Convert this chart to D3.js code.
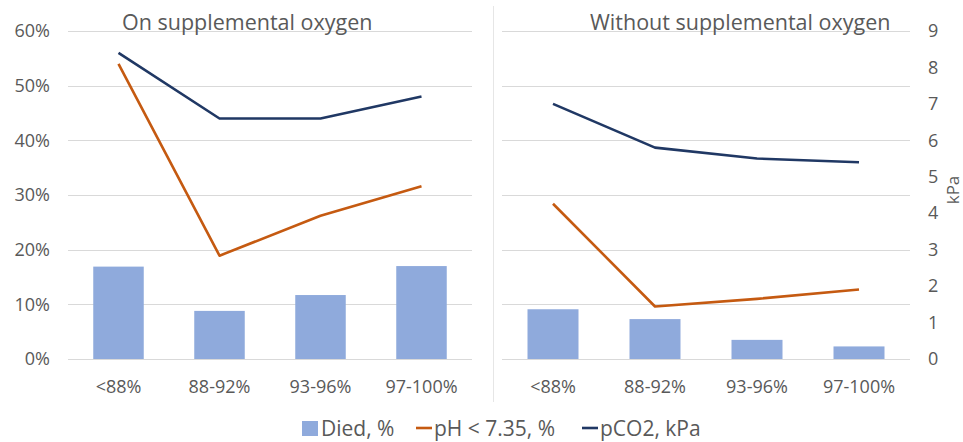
<!DOCTYPE html>
<html>
<head>
    <title>Supplemental oxygen</title>
    <script src="https://d3js.org/d3.v7.min.js"></script>
    <style>
        body { margin: 0; background: #fff; font-family: "Open Sans", sans-serif; }
        text { fill: #595959; }
    </style>
</head>
<body>
<div class="chart"></div>

<script>
    const categories = ["<88%", "88-92%", "93-96%", "97-100%"];
    const panelTitles = ["On supplemental oxygen", "Without supplemental oxygen"];

    // percent values (fractions) and kPa
    const diedOn = [0.169, 0.088, 0.117, 0.170];
    const phOn = [0.540, 0.189, 0.262, 0.316];
    const pco2On = [8.4, 6.6, 6.6, 7.2];

    const diedOff = [0.091, 0.073, 0.035, 0.023];
    const phOff = [0.284, 0.096, 0.110, 0.127];
    const pco2Off = [7.0, 5.8, 5.5, 5.4];

    const pctTicks = [0, 0.1, 0.2, 0.3, 0.4, 0.5, 0.6];
    const kpaTicks = [0, 1, 2, 3, 4, 5, 6, 7, 8, 9];

    const colors = {died: "#8FAADC", ph: "#C55A11", pco2: "#203864"};

    const svg = d3.select(".chart").append("svg").attr("width", 963).attr("height", 442);

    const yPct = d3.scaleLinear().domain([0, 0.6]).range([359, 31]);
    const yKpa = d3.scaleLinear().domain([0, 9]).range([359, 31]);

    const panels = [
        {x0: 68, x1: 472, title: panelTitles[0], titleX: 122, died: diedOn, ph: phOn, pco2: pco2On},
        {x0: 502, x1: 910, title: panelTitles[1], titleX: 590, died: diedOff, ph: phOff, pco2: pco2Off}
    ];

    // divider between the panels
    svg.append("line")
        .attr("x1", 493.5).attr("x2", 493.5)
        .attr("y1", 6).attr("y2", 402)
        .attr("stroke", "#E6E6E6").attr("stroke-width", 1);

    panels.forEach(function(p) {
        const x = d3.scaleBand().domain(categories).range([p.x0, p.x1]).paddingInner(0.5).paddingOuter(0.25);
        const g = svg.append("g");

        // gridlines
        g.selectAll(".grid")
            .data(pctTicks)
            .enter().append("line")
            .attr("x1", p.x0).attr("x2", p.x1)
            .attr("y1", d => Math.round(yPct(d)) + 0.5)
            .attr("y2", d => Math.round(yPct(d)) + 0.5)
            .attr("stroke", "#D9D9D9").attr("stroke-width", 1);

        // bars
        g.selectAll(".bar")
            .data(p.died)
            .enter().append("rect")
            .attr("x", (d, i) => x(categories[i]))
            .attr("width", x.bandwidth())
            .attr("y", d => yPct(d))
            .attr("height", d => yPct(0) - yPct(d))
            .attr("fill", colors.died);

        const xc = i => x(categories[i]) + x.bandwidth() / 2;

        g.append("path")
            .datum(p.ph)
            .attr("fill", "none")
            .attr("stroke", colors.ph)
            .attr("stroke-width", 2.6)
            .attr("stroke-linejoin", "round")
            .attr("d", d3.line().x((d, i) => xc(i)).y(d => yPct(d)));

        g.append("path")
            .datum(p.pco2)
            .attr("fill", "none")
            .attr("stroke", colors.pco2)
            .attr("stroke-width", 2.6)
            .attr("stroke-linejoin", "round")
            .attr("d", d3.line().x((d, i) => xc(i)).y(d => yKpa(d)));

        // category labels
        const xAxis = g.append("g")
            .attr("transform", "translate(0,372)")
            .call(d3.axisBottom(x).tickSize(0).tickPadding(0));
        xAxis.select(".domain").remove();
        xAxis.selectAll("text")
            .attr("dy", "0.71em")
            .attr("y", 8)
            .style("font-size", "18px")
            .style("font-family", "Open Sans")
            .attr("fill", "#595959");

        g.append("text")
            .attr("x", p.titleX)
            .attr("y", 30)
            .style("font-size", "21.5px")
            .text(p.title);
    });

    // left axis (percent)
    const leftAxis = svg.append("g")
        .attr("transform", "translate(50,0)")
        .call(d3.axisLeft(yPct).tickValues(pctTicks).tickFormat(d3.format(".0%")).tickSize(0).tickPadding(0));
    leftAxis.select(".domain").remove();
    leftAxis.selectAll("text")
        .style("font-size", "18px")
        .style("font-family", "Open Sans")
        .attr("fill", "#595959");

    // right axis (kPa)
    const rightAxis = svg.append("g")
        .attr("transform", "translate(928,0)")
        .call(d3.axisRight(yKpa).tickValues(kpaTicks).tickSize(0).tickPadding(0));
    rightAxis.select(".domain").remove();
    rightAxis.selectAll("text")
        .style("font-size", "18px")
        .style("font-family", "Open Sans")
        .attr("fill", "#595959");

    svg.append("text")
        .attr("transform", "translate(959,190) rotate(-90)")
        .attr("text-anchor", "middle")
        .style("font-size", "17px")
        .text("kPa");

    // legend
    const legendItems = [
        {label: "Died, %", color: colors.died, type: "rect", x: 302},
        {label: "pH < 7.35, %", color: colors.ph, type: "line", x: 416},
        {label: "pCO2, kPa", color: colors.pco2, type: "line", x: 582}
    ];
    const legend = svg.selectAll(".legend")
        .data(legendItems)
        .enter().append("g")
        .attr("class", "legend")
        .attr("transform", d => "translate(" + d.x + ",428)");

    legend.filter(d => d.type === "rect").append("rect")
        .attr("x", 0).attr("y", -7).attr("width", 16).attr("height", 15)
        .attr("fill", d => d.color);
    legend.filter(d => d.type === "line").append("line")
        .attr("x1", 0).attr("x2", 16).attr("y1", 0).attr("y2", 0)
        .attr("stroke", d => d.color).attr("stroke-width", 2.6);
    legend.append("text")
        .attr("x", d => d.type === "rect" ? 19 : 18)
        .attr("y", 8)
        .style("font-size", "21px")
        .text(d => d.label);
</script>
</body>
</html>
